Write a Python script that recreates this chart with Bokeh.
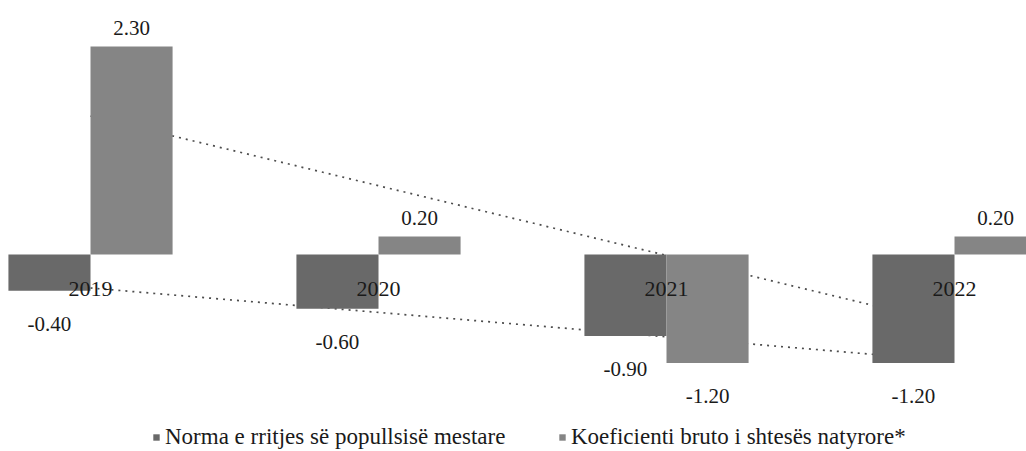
import numpy as np
from bokeh.plotting import figure
from bokeh.models import ColumnDataSource, Range1d, Legend, LegendItem
from bokeh.transform import dodge
from bokeh.core.properties import value
from bokeh.embed import file_html
from bokeh.resources import INLINE

# ---- data ----
years = ["2019", "2020", "2021", "2022"]
norma = [-0.40, -0.60, -0.90, -1.20]
koef = [2.30, 0.20, -1.20, 0.20]
series_names = ["Norma e rritjes së popullsisë mestare",
                "Koeficienti bruto i shtesës natyrore*"]

# ---- style ----
FONT = "Liberation Serif"
C1 = "#696969"
C2 = "#858585"
TXT = "#1a1a1a"
BW = 0.285
OFF = BW / 2
idx = list(range(len(years)))

p = figure(width=1026, height=451,
           x_range=Range1d(-0.3125, 3.25), y_range=Range1d(-2.177, 2.807),
           output_backend="svg", toolbar_location=None, min_border=0,
           x_axis_location=None, y_axis_location=None)
p.grid.visible = False
p.outline_line_color = None

# linear trend lines (computed from the series), drawn behind the bars
for vals in (norma, koef):
    k, b = np.polyfit(idx, vals, 1)
    xs = [idx[0], idx[-1]]
    p.line(xs, [k * x + b for x in xs], line_color="#4d4d4d",
           line_width=1.7, line_dash="2 5")

src = ColumnDataSource(dict(x=idx, norma=norma, koef=koef))
r1 = p.vbar(x=dodge("x", -OFF), top="norma", bottom=0, width=BW,
            fill_color=C1, line_color=None, source=src)
r2 = p.vbar(x=dodge("x", OFF), top="koef", bottom=0, width=BW,
            fill_color=C2, line_color=None, source=src)

# value labels
lx, ly, lt, lo = [], [], [], []
for vals, sign in ((norma, -1), (koef, 1)):
    for i, v in zip(idx, vals):
        lx.append(i + sign * OFF)
        ly.append(v)
        lt.append(f"{v:.2f}")
        lo.append(-18 if v >= 0 else 33)
lsrc = ColumnDataSource(dict(x=lx, y=ly, t=lt, o=lo))
p.text(x="x", y="y", text="t", y_offset="o", source=lsrc,
       text_align="center", text_baseline="alphabetic",
       text_font=value(FONT), text_font_size="21px", text_color=TXT)

# category labels on the zero line
ysrc = ColumnDataSource(dict(x=idx, y=[0] * len(idx), t=years))
p.text(x="x", y="y", text="t", y_offset=34, source=ysrc,
       text_align="center", text_baseline="alphabetic",
       text_font=value(FONT), text_font_size="22px", text_color=TXT)

def make_legend(label, rend, loc):
    return Legend(items=[LegendItem(label=label, renderers=[rend])],
                  location=loc, orientation="horizontal",
                  padding=0, margin=0, border_line_color=None,
                  background_fill_alpha=0, glyph_width=8, glyph_height=8,
                  label_standoff=5, label_text_font=FONT,
                  label_text_font_size="23px", label_text_color=TXT)

p.add_layout(make_legend(series_names[0], r1, (152, 1)))
p.add_layout(make_legend(series_names[1], r2, (558, 1)))

open("out.html", "w").write(file_html(p, INLINE))
